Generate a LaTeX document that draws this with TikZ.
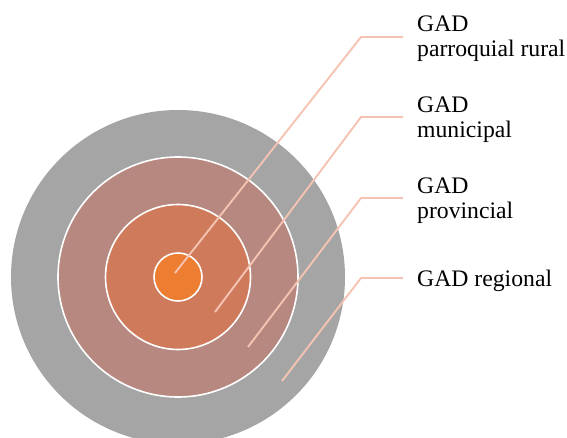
\documentclass[tikz,border=0pt]{standalone}
\usepackage{fontspec}
\setmainfont{Liberation Serif}
\definecolor{ringA}{HTML}{A5A5A5}
\definecolor{ringB}{HTML}{B7887F}
\definecolor{ringC}{HTML}{D07A5C}
\definecolor{ringD}{HTML}{ED7D31}
\definecolor{leader}{HTML}{F5C3B2}
\begin{document}
\begin{tikzpicture}[x=1pt,y=-1pt,
  ring/.style={circle,inner sep=0pt,draw=white,line width=1.6pt},
  leaderline/.style={draw=leader,line width=1.9pt},
  lbl/.style={anchor=base west,inner sep=0pt,font=\fontsize{23.7}{25}\selectfont}]
\useasboundingbox (0,0) rectangle (567,438);
\clip (0,0) rectangle (567,438);
\node[circle,inner sep=0pt,fill=ringA,minimum size=334pt] (r4) at (178,277) {};
\node[ring,fill=ringB,minimum size=240pt] (r3) at (178,277) {};
\node[ring,fill=ringC,minimum size=145pt] (r2) at (178,277) {};
\node[ring,fill=ringD,minimum size=48pt] (r1) at (178,277) {};
\coordinate (p1) at (175,273);
\coordinate (p2) at (215,312);
\coordinate (p3) at (248,347);
\coordinate (p4) at (282,381);
\coordinate (e1) at (361,37);
\coordinate (e2) at (361,117);
\coordinate (e3) at (361,198);
\coordinate (e4) at (361,278);
\coordinate (f1) at (403,37);
\coordinate (f2) at (403,117);
\coordinate (f3) at (403,198);
\coordinate (f4) at (403,278);
\draw[leaderline] (p1) -- (e1) -- (f1);
\draw[leaderline] (p2) -- (e2) -- (f2);
\draw[leaderline] (p3) -- (e3) -- (f3);
\draw[leaderline] (p4) -- (e4) -- (f4);
\node[lbl] (t1) at (417,32) {\begin{tabular}[t]{@{}l@{}}GAD\\parroquial rural\end{tabular}};
\node[lbl] (t2) at (417,113) {\begin{tabular}[t]{@{}l@{}}GAD\\municipal\end{tabular}};
\node[lbl] (t3) at (417,194) {\begin{tabular}[t]{@{}l@{}}GAD\\provincial\end{tabular}};
\node[lbl] (t4) at (417,286) {GAD regional};
\end{tikzpicture}
\end{document}
